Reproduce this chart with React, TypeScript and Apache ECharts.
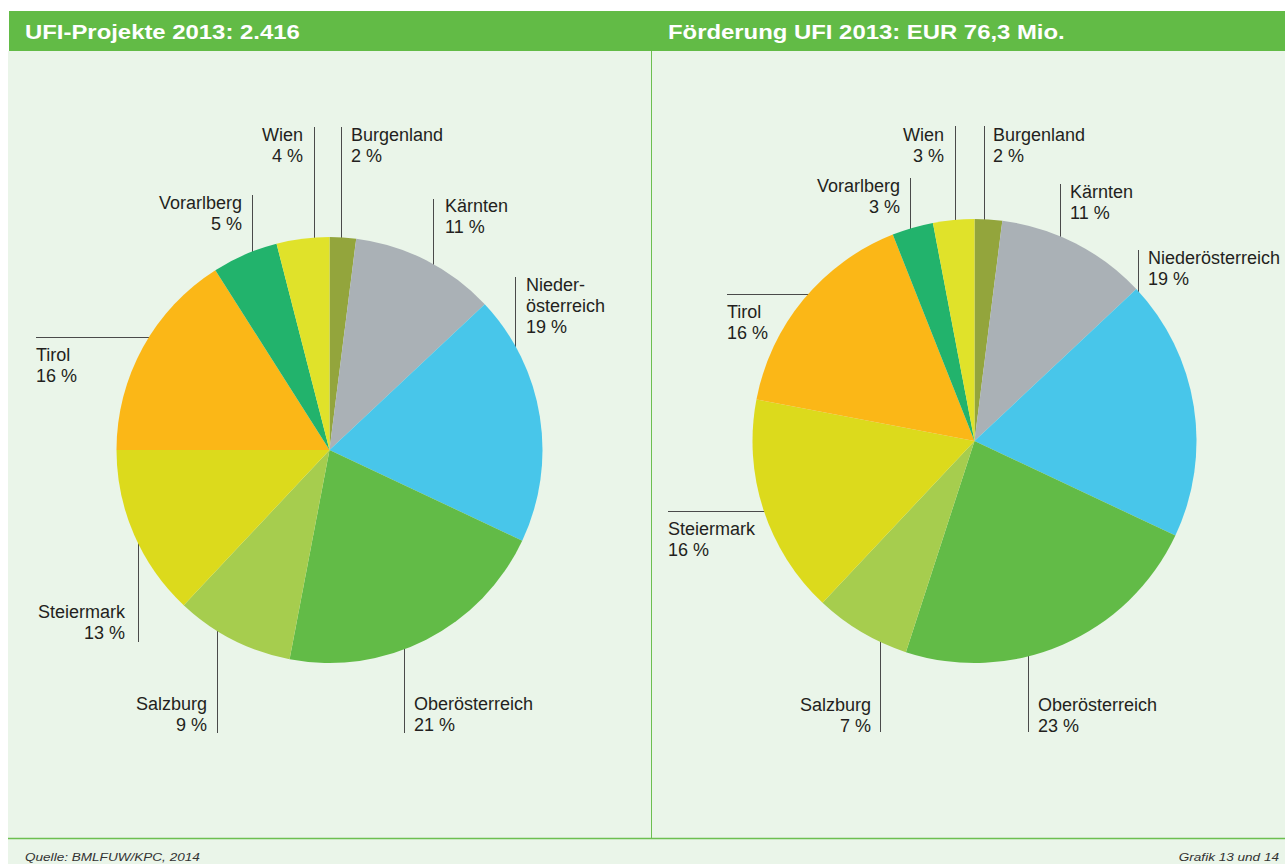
import React, { useEffect, useRef } from 'react';
import * as echarts from 'echarts';

// ---- data ----
const categories = ['Burgenland', 'Kärnten', 'Niederösterreich', 'Oberösterreich', 'Salzburg', 'Steiermark', 'Tirol', 'Vorarlberg', 'Wien'];
const projectLabelNames = ['Burgenland', 'Kärnten', 'Nieder-\nösterreich', 'Oberösterreich', 'Salzburg', 'Steiermark', 'Tirol', 'Vorarlberg', 'Wien'];
const fundingLabelNames = ['Burgenland', 'Kärnten', 'Niederösterreich', 'Oberösterreich', 'Salzburg', 'Steiermark', 'Tirol', 'Vorarlberg', 'Wien'];
const projectShares = [2, 11, 19, 21, 9, 13, 16, 5, 4];
const fundingShares = [2, 11, 19, 23, 7, 16, 16, 3, 3];
const titles = ['UFI-Projekte 2013: 2.416', 'Förderung UFI 2013: EUR 76,3 Mio.'];
const sourceText = 'Quelle: BMLFUW/KPC, 2014';
const figureText = 'Grafik 13 und 14';

// ---- styles / layout ----
const sliceColors = ['#93a53c', '#aab1b6', '#48c6ea', '#62bb47', '#a6cd4e', '#dcda1c', '#fbb717', '#22b36c', '#e0e22a'];
type LabelPlace = { x: number; y: number; align: 'left' | 'right'; line: number[] };
const projectLabelPlaces: LabelPlace[] = [
  { x: 351, y: 124, align: 'left', line: [341.5, 127, 341.5, 258] },
  { x: 445, y: 195, align: 'left', line: [433.5, 199, 433.5, 285] },
  { x: 526, y: 274, align: 'left', line: [515.5, 277, 515.5, 364] },
  { x: 414, y: 693, align: 'left', line: [404.5, 617, 404.5, 733] },
  { x: 207, y: 693, align: 'right', line: [217.5, 607, 217.5, 733] },
  { x: 125, y: 601, align: 'right', line: [138.5, 509, 138.5, 642] },
  { x: 36, y: 344, align: 'left', line: [36, 337.5, 163, 337.5] },
  { x: 242, y: 192, align: 'right', line: [252.5, 195, 252.5, 274] },
  { x: 303, y: 124, align: 'right', line: [314.5, 127, 314.5, 258] },
];
const fundingLabelPlaces: LabelPlace[] = [
  { x: 993, y: 124, align: 'left', line: [984.5, 126, 984.5, 258] },
  { x: 1070, y: 181, align: 'left', line: [1060.5, 184, 1060.5, 277] },
  { x: 1148, y: 247, align: 'left', line: [1138.5, 250, 1138.5, 346] },
  { x: 1038, y: 694, align: 'left', line: [1028.5, 631, 1028.5, 732] },
  { x: 871, y: 694, align: 'right', line: [880.5, 621, 880.5, 732] },
  { x: 668, y: 518, align: 'left', line: [668, 511.5, 782, 511.5] },
  { x: 727, y: 301, align: 'left', line: [727, 294.5, 856, 294.5] },
  { x: 900, y: 175, align: 'right', line: [910.5, 178, 910.5, 262] },
  { x: 944, y: 124, align: 'right', line: [955.5, 126, 955.5, 258] },
];

const FONT = '"Liberation Sans", Arial, Helvetica, sans-serif';
const GREEN = '#62bb46';
const LINE_GREEN = '#6cbf50';
const BG = '#eaf5e9';

function makePie(
  shares: number[],
  labelNames: string[],
  places: LabelPlace[],
  center: number[],
  radius: number
) {
  return {
    type: 'pie',
    center,
    radius,
    startAngle: 90,
    clockwise: true,
    avoidLabelOverlap: false,
    silent: true,
    emphasis: { disabled: true },
    itemStyle: { borderWidth: 0 },
    data: shares.map((v, i) => ({
      name: categories[i],
      value: v,
      itemStyle: { color: sliceColors[i] },
    })),
    label: {
      show: true,
      position: 'outside',
      formatter: (p: any) => `${labelNames[p.dataIndex]}\n${p.value} %`,
      fontFamily: FONT,
      fontSize: 18,
      lineHeight: 21,
      color: '#231f20',
    },
    labelLine: {
      show: true,
      length: 10,
      length2: 10,
      lineStyle: { color: '#4a4a4a', width: 1 },
    },
    labelLayout: (p: any) => {
      const pl = places[p.dataIndex];
      return {
        x: pl.x,
        y: pl.y,
        align: pl.align,
        verticalAlign: 'top',
        labelLinePoints: [
          [pl.line[0], pl.line[1]],
          [pl.line[0], pl.line[1]],
          [pl.line[2], pl.line[3]],
        ],
      };
    },
  };
}

export default function App() {
  const ref = useRef<HTMLDivElement>(null);
  useEffect(() => {
    if (!ref.current) return;
    const chart = echarts.init(ref.current, undefined, { renderer: 'svg' });
    chart.setOption({
      animation: false,
      graphic: [
        { type: 'rect', z: -10, shape: { x: 8, y: 51, width: 1277, height: 813 }, style: { fill: BG } },
        { type: 'rect', z: -9, shape: { x: 9, y: 11, width: 1276, height: 40 }, style: { fill: GREEN } },
        { type: 'line', z: -8, shape: { x1: 651.5, y1: 51, x2: 651.5, y2: 838 }, style: { stroke: LINE_GREEN, lineWidth: 1 } },
        { type: 'line', z: -8, shape: { x1: 8, y1: 838.5, x2: 1285, y2: 838.5 }, style: { stroke: LINE_GREEN, lineWidth: 1.5 } },
        {
          type: 'text', x: 25, y: 32.5, scaleX: 1.195,
          style: { text: titles[0], fill: '#ffffff', font: `bold 20px ${FONT}`, verticalAlign: 'middle', align: 'left' },
        },
        {
          type: 'text', x: 668, y: 32.5, scaleX: 1.195,
          style: { text: titles[1], fill: '#ffffff', font: `bold 20px ${FONT}`, verticalAlign: 'middle', align: 'left' },
        },
        {
          type: 'text', x: 25, y: 857, scaleX: 1.16,
          style: { text: sourceText, fill: '#333333', font: `italic 11.7px ${FONT}`, verticalAlign: 'middle', align: 'left' },
        },
        {
          type: 'text', x: 1279, y: 857, scaleX: 1.16,
          style: { text: figureText, fill: '#333333', font: `italic 11.7px ${FONT}`, verticalAlign: 'middle', align: 'right' },
        },
      ],
      series: [
        makePie(projectShares, projectLabelNames, projectLabelPlaces, [329.5, 450], 213),
        makePie(fundingShares, fundingLabelNames, fundingLabelPlaces, [974.5, 441], 222),
      ],
    });
    return () => chart.dispose();
  }, []);
  return (
    <div
      ref={ref}
      style={{ position: 'fixed', left: 0, top: 0, width: 1285, height: 864, background: '#ffffff' }}
    />
  );
}
